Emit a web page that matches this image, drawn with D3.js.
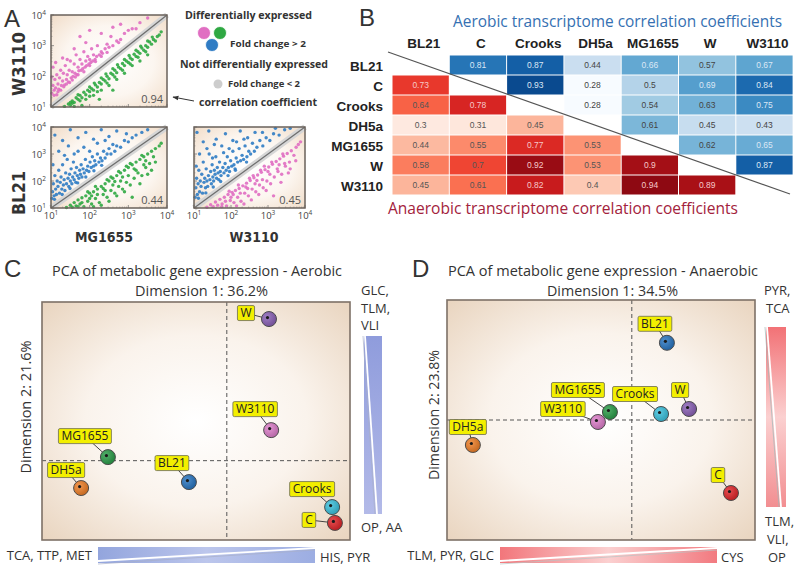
<!DOCTYPE html>
<html><head><meta charset="utf-8">
<script src="https://cdn.jsdelivr.net/npm/d3@7"></script>
<style>body{margin:0;background:#fff}svg{display:block}</style>
</head><body>
<svg id="chart" width="800" height="571"></svg>
<script>
// ---------------- DATA ----------------
const strains = ["BL21","C","Crooks","DH5a","MG1655","W","W3110"];
// upper triangle (aerobic): row i, columns j>i
const aerobicUpper = [
  [0.81,0.87,0.44,0.66,0.57,0.67],
  [0.93,0.28,0.5,0.69,0.84],
  [0.28,0.54,0.63,0.75],
  [0.61,0.45,0.43],
  [0.62,0.65],
  [0.87]
];
// lower triangle (anaerobic): row i+1, columns j<=i
const anaerobicLower = [
  [0.73],
  [0.64,0.78],
  [0.3,0.31,0.45],
  [0.44,0.55,0.77,0.53],
  [0.58,0.7,0.92,0.53,0.9],
  [0.45,0.61,0.82,0.4,0.94,0.89]
];
// PCA scores (order = strains)
const pcaAerobicPC1 = [-1.23, 3.51, 3.42, -4.73, -3.86, 1.37, 1.44];
const pcaAerobicPC2 = [-0.54, -1.57, -1.17, -0.69, 0.09, 3.57, 0.77];
const pcaAnaerobicPC1 = [1.14, 3.22, 0.95, -5.16, -0.71, 1.86, -1.10];
const pcaAnaerobicPC2 = [1.93, -1.825, 0.15, -0.625, 0.2, 0.275, -0.05];
const corrValuesA = ["0.94","0.44","0.45"];
const logTicks = [1,2,3,4];
// scatter points, log10 expression [x, y]
const tlPink = [[1.02,1.45],[1.05,1.7],[1.08,1.55],[1.1,1.9],[1.12,1.62],[1.15,2.05],[1.18,1.75],[1.2,1.58],[1.22,1.95],[1.25,2.2],[1.27,1.7],[1.3,1.85],[1.32,2.1],[1.35,1.72],[1.37,2.35],[1.4,1.9],[1.42,2.05],[1.45,1.82],[1.47,2.2],[1.5,2.5],[1.52,1.95],[1.55,2.15],[1.57,2.0],[1.6,2.4],[1.62,2.1],[1.65,2.7],[1.67,2.05],[1.7,2.3],[1.72,2.18],[1.75,2.55],[1.78,2.2],[1.8,2.4],[1.82,2.25],[1.85,2.8],[1.88,2.3],[1.9,2.5],[1.92,2.35],[1.95,2.65],[1.98,2.4],[2.0,2.55],[2.03,2.45],[2.05,2.9],[2.08,2.5],[2.1,2.7],[2.14,2.55],[2.18,2.65],[2.2,3.0],[2.25,2.7],[2.3,2.8],[2.33,2.75],[2.4,2.9],[2.45,3.05],[2.5,2.95],[2.55,3.3],[2.6,3.0],[2.7,3.15],[2.8,3.2],[2.9,3.4],[3.0,3.5],[3.1,3.55],[3.3,3.75],[3.5,3.9],[1.3,2.6],[1.6,2.9],[1.9,3.1],[2.3,3.4],[2.6,3.6],[1.15,1.4],[1.4,1.75],[1.7,2.05],[2.0,2.35],[2.3,2.65],[1.05,2.3],[1.25,1.55],[1.55,1.88],[1.85,2.15],[2.15,2.48],[2.45,2.78],[2.75,3.1],[3.2,3.55],[1.75,3.3],[2.0,3.5],[2.8,3.7],[1.08,1.38],[1.18,1.5],[1.33,1.66],[1.48,1.8],[1.63,1.98],[1.12,2.45],[1.42,2.55],[1.02,1.98]];
const tlGreen = [[1.35,1.02],[1.45,1.1],[1.5,1.05],[1.55,1.2],[1.6,1.15],[1.65,1.3],[1.7,1.25],[1.75,1.38],[1.8,1.3],[1.85,1.48],[1.9,1.4],[1.95,1.55],[2.0,1.5],[2.05,1.6],[2.1,1.55],[2.15,1.72],[2.2,1.65],[2.25,1.8],[2.3,1.75],[2.35,1.9],[2.4,1.85],[2.45,2.0],[2.5,1.92],[2.55,2.1],[2.6,2.05],[2.65,2.2],[2.7,2.12],[2.75,2.3],[2.8,2.25],[2.85,2.42],[2.9,2.35],[2.95,2.5],[3.0,2.45],[3.05,2.6],[3.1,2.55],[3.15,2.72],[3.2,2.65],[3.25,2.8],[3.3,2.75],[3.35,2.92],[3.4,2.85],[3.45,3.0],[3.5,2.95],[3.55,3.12],[3.6,3.05],[3.65,3.2],[3.7,3.15],[3.75,3.3],[3.8,3.35],[3.85,3.45],[1.6,1.02],[1.9,1.25],[2.1,1.38],[2.3,1.55],[2.5,1.7],[2.7,1.9],[2.9,2.1],[3.1,2.35],[3.3,2.5],[3.5,2.7],[1.55,1.12],[1.75,1.2],[2.0,1.35],[2.2,1.5],[2.45,1.78],[2.65,1.98],[2.85,2.2],[3.05,2.4],[3.25,2.62],[3.45,2.8],[1.7,1.4],[2.0,1.65],[2.3,1.95],[2.6,2.25],[2.9,2.55],[3.2,2.85],[3.5,3.15],[1.8,1.05],[2.25,1.25],[2.6,1.55],[1.5,1.15],[2.12,1.78],[2.42,2.08],[2.72,2.38],[3.02,2.68],[3.32,2.98],[3.62,3.28]];
const blBlue = [[1.02,1.35],[1.04,1.6],[1.06,1.9],[1.08,1.45],[1.1,2.2],[1.12,1.7],[1.14,1.5],[1.16,2.0],[1.18,1.8],[1.2,2.4],[1.22,1.55],[1.24,1.95],[1.26,2.15],[1.28,1.7],[1.3,2.6],[1.32,1.85],[1.34,2.05],[1.36,1.65],[1.38,2.3],[1.4,1.9],[1.42,2.8],[1.44,2.1],[1.46,1.8],[1.48,2.25],[1.5,2.0],[1.52,2.45],[1.54,1.9],[1.56,2.15],[1.58,2.7],[1.6,2.05],[1.62,2.3],[1.64,1.95],[1.66,2.5],[1.68,2.2],[1.7,3.1],[1.72,2.1],[1.74,2.4],[1.76,2.25],[1.78,2.6],[1.8,2.15],[1.83,2.45],[1.86,2.3],[1.89,2.8],[1.92,2.4],[1.95,2.55],[1.98,2.35],[2.01,2.7],[2.04,2.5],[2.07,2.9],[2.1,2.55],[2.13,2.75],[2.16,2.6],[2.2,3.0],[2.24,2.7],[2.28,2.85],[2.32,2.75],[2.36,3.1],[2.4,2.85],[2.45,3.0],[2.5,3.2],[2.55,3.0],[2.6,3.35],[2.65,3.1],[2.7,3.3],[2.8,3.25],[2.9,3.5],[3.0,3.45],[3.1,3.6],[3.2,3.7],[3.35,3.8],[3.5,3.9],[1.1,3.7],[1.3,3.5],[1.5,3.9],[1.7,3.6],[1.9,3.8],[2.1,3.55],[2.3,3.9],[2.5,3.65],[2.7,3.85],[1.2,3.1],[1.45,3.3],[1.85,3.25],[2.2,3.4],[1.05,2.6],[1.6,3.0],[2.0,3.1],[2.4,3.5],[2.95,3.75],[1.35,2.95],[1.09,1.32],[1.29,1.5],[1.49,1.72],[1.69,1.93],[1.9,2.15],[2.11,2.38],[2.31,2.58]];
const blGreen = [[1.4,1.02],[1.5,1.1],[1.55,1.03],[1.6,1.2],[1.65,1.08],[1.7,1.3],[1.75,1.15],[1.8,1.38],[1.85,1.05],[1.9,1.45],[1.95,1.25],[2.0,1.55],[2.05,1.15],[2.1,1.6],[2.15,1.35],[2.2,1.7],[2.25,1.2],[2.3,1.8],[2.35,1.5],[2.4,1.9],[2.45,1.4],[2.5,2.0],[2.55,1.65],[2.6,2.1],[2.65,1.55],[2.7,2.2],[2.75,1.8],[2.8,2.3],[2.85,1.7],[2.9,2.4],[2.95,1.95],[3.0,2.5],[3.05,1.85],[3.1,2.6],[3.15,2.1],[3.2,2.7],[3.25,2.3],[3.3,2.8],[3.35,2.2],[3.4,2.9],[3.45,2.5],[3.5,3.0],[3.55,2.65],[3.6,3.1],[3.65,2.9],[3.7,3.2],[3.8,3.3],[3.85,3.4],[2.0,1.35],[2.2,1.5],[2.4,1.65],[2.6,1.85],[2.8,2.0],[3.0,2.2],[3.2,2.4],[3.4,2.6],[2.1,1.05],[2.5,1.25],[2.9,1.6],[3.3,1.9],[2.3,1.1],[2.7,1.45],[3.6,2.4],[1.8,1.2],[2.15,1.8],[2.45,2.05],[2.75,2.35],[3.05,2.65],[3.35,2.95],[1.7,1.05],[3.1,1.4],[3.7,2.7],[2.95,2.55],[2.55,2.15],[1.95,1.6],[3.5,2.25],[2.05,1.45],[2.35,1.72],[2.65,1.98],[2.85,2.15],[3.15,2.45],[3.45,2.75]];
const brBlue = [[1.03,1.4],[1.05,1.75],[1.07,2.1],[1.09,1.5],[1.11,1.9],[1.13,2.4],[1.15,1.6],[1.17,2.0],[1.19,1.8],[1.21,2.25],[1.23,1.55],[1.25,2.7],[1.27,1.95],[1.29,2.1],[1.31,1.75],[1.33,2.45],[1.35,2.0],[1.37,1.8],[1.39,2.2],[1.41,3.0],[1.43,2.05],[1.45,2.35],[1.47,1.9],[1.49,2.6],[1.51,2.15],[1.53,2.0],[1.55,2.4],[1.57,2.25],[1.59,2.9],[1.61,2.1],[1.63,2.5],[1.65,2.3],[1.67,2.05],[1.69,2.7],[1.71,2.35],[1.73,2.2],[1.75,3.3],[1.78,2.5],[1.81,2.3],[1.84,2.65],[1.87,2.4],[1.9,2.9],[1.93,2.5],[1.96,2.35],[1.99,2.75],[2.02,2.55],[2.05,3.1],[2.08,2.6],[2.11,2.45],[2.14,2.85],[2.18,2.7],[2.22,3.2],[2.26,2.75],[2.3,2.95],[2.34,2.8],[2.38,3.3],[2.43,2.9],[2.48,3.1],[2.53,3.0],[2.58,3.4],[2.63,3.1],[2.7,3.25],[2.78,3.5],[2.86,3.3],[2.95,3.6],[3.05,3.5],[3.15,3.75],[3.3,3.7],[3.45,3.9],[3.6,3.95],[1.08,3.8],[1.25,3.45],[1.4,3.85],[1.6,3.55],[1.85,3.75],[2.05,3.5],[2.25,3.85],[2.45,3.6],[2.65,3.8],[1.15,3.0],[1.35,3.2],[1.55,3.35],[1.95,3.2],[2.15,3.45],[1.06,2.55],[1.5,2.85],[1.8,3.05],[2.35,3.55],[2.85,3.8],[3.2,3.95],[1.12,1.36],[1.32,1.56],[1.52,1.78],[1.72,1.98],[1.92,2.2],[2.12,2.4],[2.42,2.7]];
const brPink = [[1.35,1.03],[1.45,1.12],[1.52,1.05],[1.58,1.22],[1.64,1.1],[1.7,1.32],[1.76,1.15],[1.82,1.4],[1.88,1.08],[1.92,1.5],[1.98,1.28],[2.03,1.58],[2.08,1.2],[2.12,1.65],[2.18,1.4],[2.22,1.72],[2.27,1.25],[2.32,1.82],[2.37,1.55],[2.42,1.92],[2.47,1.45],[2.52,2.02],[2.57,1.7],[2.62,2.12],[2.67,1.6],[2.72,2.22],[2.77,1.85],[2.82,2.32],[2.87,1.75],[2.92,2.42],[2.97,2.0],[3.02,2.52],[3.07,1.9],[3.12,2.62],[3.17,2.15],[3.22,2.72],[3.27,2.35],[3.32,2.82],[3.37,2.25],[3.42,2.92],[3.47,2.55],[3.52,3.02],[3.58,2.7],[3.63,3.12],[3.7,2.95],[3.76,3.25],[3.82,3.35],[3.88,3.45],[2.0,1.4],[2.25,1.55],[2.45,1.72],[2.65,1.9],[2.85,2.05],[3.05,2.25],[3.25,2.45],[3.45,2.65],[2.15,1.08],[2.55,1.3],[2.95,1.65],[3.35,1.95],[2.35,1.15],[2.75,1.5],[3.6,2.45],[1.85,1.25],[2.2,1.85],[2.5,2.1],[2.8,2.4],[3.1,2.7],[3.4,3.0],[1.75,1.05],[3.15,1.45],[3.75,2.75],[2.9,2.55],[2.6,2.2],[1.95,1.62],[3.55,2.3],[2.06,1.5],[2.4,1.78],[2.7,2.02],[3.0,2.35],[3.3,2.6]];

// ---------------- STYLE / LAYOUT ----------------
const FONT = "'Open Sans', sans-serif";
const ARIAL = "'Liberation Sans', Arial, sans-serif";
const PINK = "#e06ec2", GREEN = "#2fa843", BLUE = "#2f7cc4";
const strainColors = {BL21:"#2a77c3", C:"#e2262a", Crooks:"#3cc2de", DH5a:"#f08028", MG1655:"#2c9e4a", W:"#8c62b8", W3110:"#de7fcb"};
const labelOffAer = {W:[-23,-6], W3110:[-16,-21], MG1655:[-23,-21], BL21:[-17,-19], DH5a:[-15,-18], Crooks:[-20,-18], C:[-26,-3]};
const labelOffAna = {BL21:[-12,-19], MG1655:[-32,-22], W3110:[-35,-13], Crooks:[-26,-20], W:[-9,-19], DH5a:[-5,-18], C:[-13,-18]};

const svg = d3.select("#chart");
const defs = svg.append("defs");
function grad(type, id, stops, attrs) {
  const g = defs.append(type).attr("id", id);
  Object.entries(attrs || {}).forEach(([k,v]) => g.attr(k, v));
  stops.forEach(([o,c]) => g.append("stop").attr("offset", o).attr("stop-color", c));
}
grad("radialGradient","bgA",[["0%","#ffffff"],["55%","#fcf6f0"],["100%","#f1ddc9"]],{r:"70%"});
grad("radialGradient","bgP",[["0%","#ffffff"],["50%","#faf3ec"],["100%","#e8d3bd"]],{r:"72%"});
grad("radialGradient","ball",[["0%","#ffffff"],["100%","#000000"]],{cx:"35%",cy:"35%",r:"70%"});
grad("linearGradient","blueV",[["0%","#8f9cdc"],["100%","#b3bae8"]],{x1:0,y1:0,x2:0,y2:1});
grad("linearGradient","blueH",[["0%","#93a5dd"],["50%","#bcc6ec"],["100%","#9cade2"]],{x1:0,y1:0,x2:1,y2:0});
grad("linearGradient","redV",[["0%","#f27276"],["50%","#fbd0d0"],["100%","#f28e91"]],{x1:0,y1:0,x2:0,y2:1});
grad("linearGradient","redH",[["0%","#f2767b"],["50%","#fbd0d0"],["100%","#f27a80"]],{x1:0,y1:0,x2:1,y2:0});
defs.append("marker").attr("id","arr").attr("viewBox","0 0 10 10").attr("refX",9).attr("refY",5)
  .attr("markerWidth",6).attr("markerHeight",6).attr("orient","auto")
  .append("path").attr("d","M0,1L10,5L0,9z").attr("fill","#333");

function txt(x, y, s, size, opts={}) {
  const t = svg.append("text").attr("x", x).attr("y", y).text(s)
    .attr("font-size", size).attr("font-family", opts.family || FONT)
    .attr("fill", opts.fill || "#333").attr("text-anchor", opts.anchor || "start");
  if (opts.weight) t.attr("font-weight", opts.weight);
  if (opts.len) t.attr("textLength", opts.len).attr("lengthAdjust", "spacingAndGlyphs");
  if (opts.rotate) t.attr("transform", `rotate(-90,${x},${y})`);
  return t;
}

// ---------------- PANEL A ----------------
txt(4, 27, "A", 24, {fill:"#333", family:ARIAL});
function scatter(p) {
  const g = svg.append("g").attr("transform", `translate(${p.x},${p.y})`);
  const xs = d3.scaleLog().domain([10, 1e4]).range([0, p.w]);
  const ys = d3.scaleLog().domain([10, 1e4]).range([p.h, 0]);
  g.append("rect").attr("width", p.w).attr("height", p.h).attr("fill", "url(#bgA)");
  p.series.forEach(([data, col]) => {
    g.selectAll(null).data(data).join("circle")
      .attr("cx", d => xs(Math.pow(10, d[0]))).attr("cy", d => ys(Math.pow(10, d[1])))
      .attr("r", 1.7).attr("fill", col).attr("opacity", 0.9);
  });
  g.append("line").attr("x1", xs(10)).attr("y1", ys(10)).attr("x2", xs(1e4)).attr("y2", ys(1e4))
    .attr("stroke", "#d6d6d6").attr("stroke-width", 6);
  g.append("line").attr("x1", xs(10)).attr("y1", ys(10)).attr("x2", xs(1e4)).attr("y2", ys(1e4))
    .attr("stroke", "#6e6e6e").attr("stroke-width", 1.3);
  const minor = [];
  [1,2,3].forEach(e => [2,3,4,5,6,7,8,9].forEach(m => minor.push(m * Math.pow(10, e))));
  const major = logTicks.map(e => Math.pow(10, e));
  g.selectAll(null).data(major).join("line").attr("x1",0).attr("x2",3)
    .attr("y1", d => ys(d)).attr("y2", d => ys(d)).attr("stroke","#777").attr("stroke-width",0.8);
  g.selectAll(null).data(minor).join("line").attr("x1",0).attr("x2",1.6)
    .attr("y1", d => ys(d)).attr("y2", d => ys(d)).attr("stroke","#999").attr("stroke-width",0.6);
  g.selectAll(null).data(major).join("line").attr("y1",p.h).attr("y2",p.h-3)
    .attr("x1", d => xs(d)).attr("x2", d => xs(d)).attr("stroke","#777").attr("stroke-width",0.8);
  g.selectAll(null).data(minor).join("line").attr("y1",p.h).attr("y2",p.h-1.6)
    .attr("x1", d => xs(d)).attr("x2", d => xs(d)).attr("stroke","#999").attr("stroke-width",0.6);
  g.append("rect").attr("width", p.w).attr("height", p.h).attr("fill", "none")
    .attr("stroke", "#6a625b").attr("stroke-width", 1.5);
  g.append("text").attr("x", p.w - 4).attr("y", p.h - 4).attr("text-anchor","end")
    .attr("font-size", 11).attr("font-family", FONT).attr("fill","#555").text(p.corr);
  if (p.yTicks) {
    logTicks.forEach(e => {
      const t = g.append("text").attr("x", -5).attr("y", ys(Math.pow(10,e)) + 3.5).attr("text-anchor","end")
        .attr("font-size", 9.5).attr("font-family", FONT).attr("fill","#444");
      t.append("tspan").text("10");
      t.append("tspan").attr("dy",-4).attr("font-size",6.5).text(e);
    });
  }
  if (p.xTicks) {
    logTicks.forEach(e => {
      const t = g.append("text").attr("x", xs(Math.pow(10,e))).attr("y", p.h + 11).attr("text-anchor","middle")
        .attr("font-size", 9.5).attr("font-family", FONT).attr("fill","#444");
      t.append("tspan").text("10");
      t.append("tspan").attr("dy",-4).attr("font-size",6.5).text(e);
    });
  }
}
scatter({x:51, y:15, w:116, h:92, series:[[tlPink,PINK],[tlGreen,GREEN]], corr:corrValuesA[0], yTicks:true, xTicks:false});
scatter({x:51, y:127, w:116, h:81, series:[[blBlue,BLUE],[blGreen,GREEN]], corr:corrValuesA[1], yTicks:true, xTicks:true});
scatter({x:194, y:127, w:111, h:81, series:[[brBlue,BLUE],[brPink,PINK]], corr:corrValuesA[2], yTicks:false, xTicks:true});

txt(25, 64, "W3110", 17, {family:"'DejaVu Sans', sans-serif", weight:"bold", anchor:"middle", rotate:true, len:64, fill:"#333"});
txt(25, 193, "BL21", 17, {family:"'DejaVu Sans', sans-serif", weight:"bold", anchor:"middle", rotate:true, len:44, fill:"#333"});
txt(104, 242, "MG1655", 14, {family:"'DejaVu Sans', sans-serif", weight:"bold", anchor:"middle", len:58, fill:"#333"});
txt(254, 242, "W3110", 14, {family:"'DejaVu Sans', sans-serif", weight:"bold", anchor:"middle", len:49, fill:"#333"});

// legend
txt(185, 19, "Differentially expressed", 10.5, {weight:"bold", len:127});
[[204,33,PINK],[220,33,GREEN],[212,45,BLUE]].forEach(([cx,cy,c]) =>
  svg.append("circle").attr("cx",cx).attr("cy",cy).attr("r",6.5).attr("fill",c).attr("stroke","#fff").attr("stroke-width",0.8));
txt(230, 47, "Fold change > 2", 9, {weight:"bold", len:76});
txt(180, 68, "Not differentially expressed", 10.5, {weight:"bold", len:148});
svg.append("circle").attr("cx",218).attr("cy",84).attr("r",4.5).attr("fill","#cdcdcd");
txt(228, 87, "Fold change < 2", 9, {weight:"bold", len:72});
txt(199, 106, "correlation coefficient", 10.5, {weight:"bold", len:118});
svg.append("line").attr("x1",194).attr("y1",101).attr("x2",173).attr("y2",97)
  .attr("stroke","#333").attr("stroke-width",1).attr("marker-end","url(#arr)");

// ---------------- PANEL B ----------------
txt(359, 26, "B", 24, {family:ARIAL});
const hx0 = 392, hy0 = 55, cw = 57.3, ch = 20;
const hx = d3.scaleBand().domain(strains).range([hx0, hx0 + cw * 7]);
const hy = d3.scaleBand().domain(strains).range([hy0, hy0 + ch * 7]);
const blueScale = d3.scaleSequential(d3.interpolateBlues).domain([0.28, 1.0]);
const redScale = d3.scaleSequential(d3.interpolateReds).domain([0.25, 1.0]);
const cells = [];
aerobicUpper.forEach((row, i) => row.forEach((v, k) => cells.push({r: strains[i], c: strains[i + 1 + k], v, type:"aer"})));
anaerobicLower.forEach((row, i) => row.forEach((v, k) => cells.push({r: strains[i + 1], c: strains[k], v, type:"ana"})));
const cg = svg.append("g");
cg.selectAll("rect").data(cells).join("rect")
  .attr("x", d => hx(d.c) + 0.5).attr("y", d => hy(d.r) + 0.5)
  .attr("width", hx.bandwidth() - 1).attr("height", hy.bandwidth() - 1)
  .attr("fill", d => d.type === "aer" ? blueScale(d.v) : redScale(d.v));
cg.selectAll("text").data(cells).join("text")
  .attr("x", d => hx(d.c) + hx.bandwidth() / 2).attr("y", d => hy(d.r) + hy.bandwidth() / 2 + 3)
  .attr("text-anchor","middle").attr("font-size", 8.5).attr("font-family", ARIAL)
  .attr("fill", d => {
    if (d.type === "aer") return d.v > 0.64 ? "#dbe7f5" : "#444";
    return d.v > 0.7 ? "#f6c8c8" : "#555";
  })
  .text(d => d.v);
strains.forEach(s => {
  txt(hx(s) + hx.bandwidth() / 2 + 3, 48, s, 13.5, {family: ARIAL, weight:"bold", anchor:"middle", fill:"#222"});
  txt(383, hy(s) + ch / 2 + 6, s, 13.5, {family: ARIAL, weight:"bold", anchor:"end", fill:"#222"});
});
svg.append("line").attr("x1", 388).attr("y1", 52).attr("x2", 790).attr("y2", 194)
  .attr("stroke", "#555").attr("stroke-width", 1.2);
txt(453, 27, "Aerobic transcriptome correlation coefficients", 16, {fill:"#3570b2", len:329});
txt(388, 214, "Anaerobic transcriptome correlation coefficients", 16.5, {fill:"#a3223c", len:350});

// ---------------- PANELS C & D ----------------
function pca(p) {
  const xs = d3.scaleLinear().domain(p.xd).range([p.x, p.x + p.w]);
  const ys = d3.scaleLinear().domain(p.yd).range([p.y + p.h, p.y]);
  svg.append("rect").attr("x", p.x).attr("y", p.y).attr("width", p.w).attr("height", p.h).attr("fill", "url(#bgP)");
  svg.append("line").attr("x1", xs(0)).attr("x2", xs(0)).attr("y1", p.y).attr("y2", p.y + p.h)
    .attr("stroke", "#555").attr("stroke-width", 1).attr("stroke-dasharray", "4,3");
  svg.append("line").attr("y1", ys(0)).attr("y2", ys(0)).attr("x1", p.x).attr("x2", p.x + p.w)
    .attr("stroke", "#555").attr("stroke-width", 1).attr("stroke-dasharray", "4,3");
  svg.append("rect").attr("x", p.x).attr("y", p.y).attr("width", p.w).attr("height", p.h)
    .attr("fill", "none").attr("stroke", "#7d7167").attr("stroke-width", 1.6);
  const pts = strains.map((s, i) => ({s, px: xs(p.pc1[i]), py: ys(p.pc2[i]), off: p.off[s]}));
  const g = svg.append("g");
  g.selectAll(".con").data(pts).join("line")
    .attr("x1", d => d.px + d.off[0]).attr("y1", d => d.py + d.off[1])
    .attr("x2", d => d.px).attr("y2", d => d.py).attr("stroke", "#333").attr("stroke-width", 0.9);
  g.selectAll(".pt").data(pts).join("circle")
    .attr("cx", d => d.px).attr("cy", d => d.py).attr("r", 7.5)
    .attr("fill", d => strainColors[d.s]).attr("stroke", "#4a4a4a").attr("stroke-width", 1);
  g.selectAll(".shade").data(pts).join("circle")
    .attr("cx", d => d.px).attr("cy", d => d.py).attr("r", 7)
    .attr("fill", "url(#ball)").attr("opacity", 0.18);
  g.selectAll(".dot").data(pts).join("circle")
    .attr("cx", d => d.px - 1.5).attr("cy", d => d.py - 1.5).attr("r", 1.6).attr("fill", "#1a1a1a");
  pts.forEach(d => {
    const lx = d.px + d.off[0], ly = d.py + d.off[1];
    const lg = g.append("g");
    const r = lg.append("rect");
    const t = lg.append("text").attr("x", lx).attr("y", ly + 4.2).attr("text-anchor", "middle")
      .attr("font-size", 12).attr("font-family", FONT).attr("fill", "#222").text(d.s);
    const w = t.node().getComputedTextLength();
    r.attr("x", lx - w / 2 - 3).attr("y", ly - 7.5).attr("width", w + 6).attr("height", 15)
      .attr("rx", 1.5).attr("fill", "#f3ef00").attr("stroke", "#6b6b50").attr("stroke-width", 0.8);
  });
}
function wedgeV(x, y, w, h, fill, lineCol) {
  svg.append("rect").attr("x", x).attr("y", y).attr("width", w).attr("height", h).attr("fill", fill);
  svg.append("line").attr("x1", x + 1).attr("y1", y).attr("x2", x + w - 5).attr("y2", y + h)
    .attr("stroke", "#fff").attr("stroke-width", 1.8);
  svg.append("line").attr("x1", x - 1).attr("y1", y).attr("x2", x + w - 7).attr("y2", y + h)
    .attr("stroke", lineCol).attr("stroke-width", 0.7);
}
function wedgeH(x, y, w, h, fill, lineCol) {
  svg.append("rect").attr("x", x).attr("y", y).attr("width", w).attr("height", h).attr("fill", fill);
  svg.append("line").attr("x1", x).attr("y1", y + h - 2).attr("x2", x + w).attr("y2", y + 1)
    .attr("stroke", "#fff").attr("stroke-width", 1.8);
  svg.append("line").attr("x1", x).attr("y1", y + h + 1).attr("x2", x + w).attr("y2", y + 3)
    .attr("stroke", lineCol).attr("stroke-width", 0.7);
}

// C
txt(4, 277, "C", 24, {family:ARIAL});
txt(52, 276, "PCA of metabolic gene expression - Aerobic", 15, {len:290});
txt(135, 296, "Dimension 1: 36.2%", 14, {len:133});
txt(31, 407, "Dimension 2: 21.6%", 14, {anchor:"middle", rotate:true, len:133});
pca({x:42, y:302, w:308, h:238, xd:[-6,4], yd:[-2,4], pc1:pcaAerobicPC1, pc2:pcaAerobicPC2, off:labelOffAer});
txt(361, 295, "GLC,", 13);
txt(361, 313, "TLM,", 13);
txt(361, 330, "VLI", 13);
txt(361, 532, "OP, AA", 13);
wedgeV(364, 336, 18, 178, "url(#blueV)", "#a8afc8");
wedgeH(98, 547, 217, 16, "url(#blueH)", "#a8afc8");
txt(92, 560, "TCA, TTP, MET", 13, {anchor:"end"});
txt(320, 562, "HIS, PYR", 13);

// D
txt(412, 277, "D", 24, {family:ARIAL});
txt(448, 276, "PCA of metabolic gene expression - Anaerobic", 15, {len:310});
txt(547, 296, "Dimension 1: 34.5%", 14, {len:131});
txt(439, 415, "Dimension 2: 23.8%", 14, {anchor:"middle", rotate:true, len:130});
pca({x:447, y:300, w:308, h:240, xd:[-6,4], yd:[-3,3], pc1:pcaAnaerobicPC1, pc2:pcaAnaerobicPC2, off:labelOffAna});
txt(764, 295, "PYR,", 13);
txt(766, 313, "TCA", 13);
txt(765, 526, "TLM,", 13);
txt(767, 544, "VLI,", 13);
txt(768, 562, "OP", 13);
wedgeV(766, 327, 20, 180, "url(#redV)", "#9fb8b8");
wedgeH(500, 547, 217, 16, "url(#redH)", "#b9c4c4");
txt(494, 560, "TLM, PYR, GLC", 13, {anchor:"end"});
txt(721, 562, "CYS", 13);
</script>
</body></html>
